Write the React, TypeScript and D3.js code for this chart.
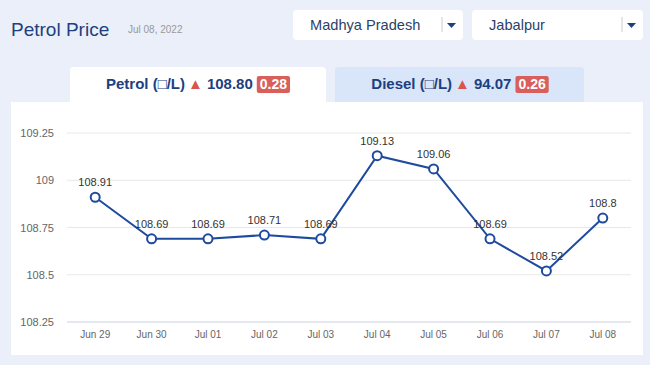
import React, { useRef, useEffect } from 'react';
import * as d3 from 'd3';

const dates = ['Jun 29', 'Jun 30', 'Jul 01', 'Jul 02', 'Jul 03', 'Jul 04', 'Jul 05', 'Jul 06', 'Jul 07', 'Jul 08'];
const prices = [108.91, 108.69, 108.69, 108.71, 108.69, 109.13, 109.06, 108.69, 108.52, 108.8];
const yTicks = [108.25, 108.5, 108.75, 109, 109.25];

const FONT = '"Liberation Sans", Arial, sans-serif';
const NAVY = '#1d3f80';
const LINE = '#1f4b9e';

const App = () => {
  const svgRef = useRef<SVGSVGElement>(null);

  useEffect(() => {
    const W = 650;
    const H = 365;
    const svg = d3.select(svgRef.current)
      .attr('width', W)
      .attr('height', H)
      .style('font-family', FONT);

    svg.selectAll('*').remove(); // Clear previous content

    svg.append('rect').attr('width', W).attr('height', H).attr('fill', '#eaeff9');

    // Header
    svg.append('text')
      .attr('x', 11).attr('y', 36)
      .attr('font-size', 19).attr('fill', NAVY)
      .text('Petrol Price');
    svg.append('text')
      .attr('x', 128).attr('y', 33)
      .attr('font-size', 10).attr('fill', '#999')
      .text('Jul 08, 2022');

    // Dropdowns
    const dropdowns = [
      { label: 'Madhya Pradesh', x: 293, w: 170 },
      { label: 'Jabalpur', x: 472, w: 171 },
    ];
    dropdowns.forEach(dd => {
      const g = svg.append('g').attr('transform', `translate(${dd.x}, 10)`);
      g.append('rect').attr('width', dd.w).attr('height', 30).attr('rx', 4).attr('fill', '#fff');
      g.append('text').attr('x', 17).attr('y', 20).attr('font-size', 14.6).attr('fill', '#2b3f6b').text(dd.label);
      g.append('line').attr('x1', dd.w - 21).attr('x2', dd.w - 21).attr('y1', 7).attr('y2', 22).attr('stroke', '#ccc');
      g.append('path')
        .attr('d', `M${dd.w - 16},13 L${dd.w - 7},13 L${dd.w - 11.5},18 Z`)
        .attr('fill', NAVY);
    });

    // Tabs
    svg.append('rect').attr('x', 335).attr('y', 67).attr('width', 249).attr('height', 40).attr('rx', 4).attr('fill', '#d9e5f9');
    svg.append('rect').attr('x', 70).attr('y', 67).attr('width', 256).attr('height', 40).attr('rx', 4).attr('fill', '#fff');

    const tabs = [
      { fuel: 'Petrol', price: '108.80', change: '0.28', cx: 198 },
      { fuel: 'Diesel', price: '94.07', change: '0.26', cx: 460 },
    ];
    tabs.forEach(t => {
      const g = svg.append('g');
      const txt = g.append('text').attr('y', 89).attr('font-size', 15).attr('font-weight', 'bold').attr('fill', NAVY);
      txt.append('tspan').text(`${t.fuel} (\u25A1/L)`);
      txt.append('tspan').attr('fill', '#d9534f').attr('font-size', 15).attr('dx', 3).text('\u25B2');
      txt.append('tspan').attr('dx', 4).text(t.price);
      const bb = (txt.node() as SVGTextElement).getBBox();
      const badgeText = g.append('text').attr('y', 89).attr('font-size', 14).attr('font-weight', 'bold').attr('fill', '#fff').text(t.change);
      const bw = (badgeText.node() as SVGTextElement).getComputedTextLength() + 6;
      const total = bb.width + 4 + bw;
      const x0 = t.cx - total / 2;
      txt.attr('x', x0);
      g.insert('rect', 'text:last-child')
        .attr('x', x0 + bb.width + 4).attr('y', 76).attr('width', bw).attr('height', 17).attr('rx', 2).attr('fill', '#d9605a');
      badgeText.attr('x', x0 + bb.width + 7).raise();
    });

    // Chart panel
    svg.append('rect').attr('x', 11).attr('y', 102).attr('width', 632).attr('height', 253).attr('fill', '#fff');

    const margin = { left: 67, right: 631, top: 133, bottom: 322 };

    const xScale = d3.scalePoint<string>()
      .domain(dates)
      .range([margin.left, margin.right])
      .padding(0.5);

    const yScale = d3.scaleLinear()
      .domain([108.25, 109.25])
      .range([margin.bottom, margin.top]);

    const grid = svg.append('g');
    yTicks.forEach(v => {
      grid.append('line')
        .attr('x1', margin.left).attr('x2', margin.right)
        .attr('y1', yScale(v)).attr('y2', yScale(v))
        .attr('stroke', v === 108.25 ? '#ccd3df' : '#e8e8e8');
      grid.append('text')
        .attr('x', 54).attr('y', yScale(v) + 4)
        .attr('text-anchor', 'end').attr('font-size', 11).attr('fill', '#666')
        .text(d3.format('')(v));
    });

    dates.forEach(d => {
      svg.append('text')
        .attr('x', xScale(d)!).attr('y', 338)
        .attr('text-anchor', 'middle').attr('font-size', 10).attr('fill', '#666')
        .text(d);
    });

    const line = d3.line<number>()
      .x((_, i) => xScale(dates[i])!)
      .y(d => yScale(d));

    svg.append('path')
      .datum(prices)
      .attr('d', line)
      .attr('fill', 'none')
      .attr('stroke', LINE)
      .attr('stroke-width', 2);

    svg.selectAll('.lbl')
      .data(prices)
      .enter()
      .append('text')
      .attr('x', (_, i) => xScale(dates[i])!)
      .attr('y', d => yScale(d) - 11)
      .attr('text-anchor', 'middle')
      .attr('font-size', 11)
      .attr('fill', '#333')
      .text(d => String(d));

    svg.selectAll('.pt')
      .data(prices)
      .enter()
      .append('circle')
      .attr('cx', (_, i) => xScale(dates[i])!)
      .attr('cy', d => yScale(d))
      .attr('r', 4.5)
      .attr('fill', '#fff')
      .attr('stroke', LINE)
      .attr('stroke-width', 2);
  }, []);

  return <svg ref={svgRef} style={{ position: 'absolute', left: 0, top: 0, display: 'block' }}></svg>;
};

export default App;
